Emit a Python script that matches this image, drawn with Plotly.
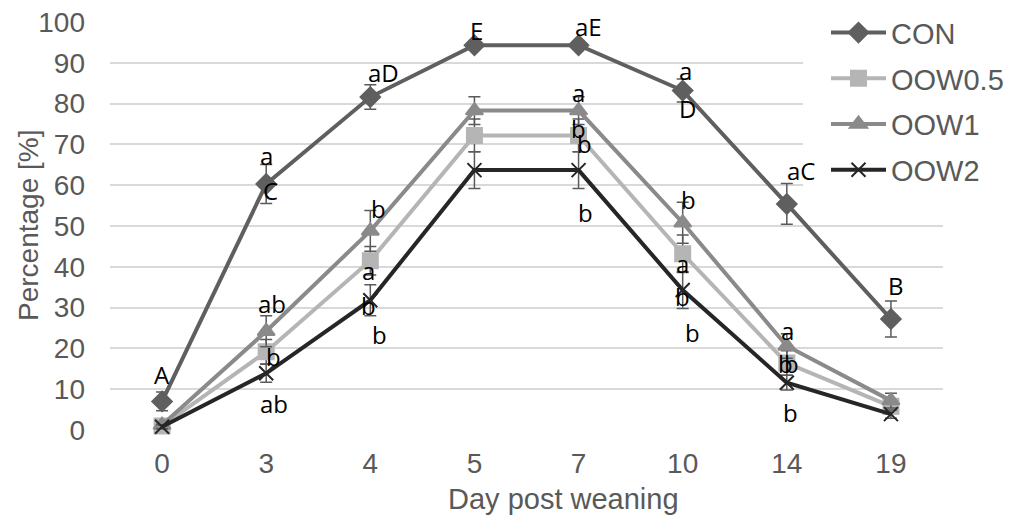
import plotly.graph_objects as go

days = ["0", "3", "4", "5", "7", "10", "14", "19"]

con = [7.0, 60.3, 81.6, 94.3, 94.3, 83.2, 55.4, 27.2]
con_err = [2.3, 4.8, 3.0, 1.0, 1.0, 2.8, 5.0, 4.4]

oow05 = [1.0, 19.2, 41.5, 72.2, 72.2, 43.2, 16.4, 5.8]
oow05_err = [0.5, 3.0, 3.5, 4.0, 4.0, 4.6, 3.0, 1.5]

oow1 = [1.2, 24.2, 48.8, 78.3, 78.3, 50.8, 20.6, 7.2]
oow1_err = [0.5, 3.8, 5.0, 3.4, 3.4, 5.0, 3.0, 1.8]

oow2 = [0.8, 13.9, 31.8, 63.7, 63.7, 34.3, 11.6, 3.9]
oow2_err = [0.5, 2.2, 3.8, 4.5, 4.5, 4.5, 1.8, 1.0]

# significance letters: day, y value, text, horizontal nudge (px)
lab_day = ["0", "3", "3", "4", "5", "7", "10", "10", "14", "19",
           "3", "3", "3",
           "4", "4", "4", "4",
           "7", "7", "7", "7",
           "10", "10", "10", "10",
           "14", "14", "14", "14"]
lab_y = [13.5, 67.4, 58.8, 87.7, 98.0, 98.8, 88.2, 78.9, 63.7, 35.5,
         31.1, 17.9, 6.4,
         54.4, 39.2, 30.6, 23.3,
         82.6, 74.0, 70.3, 53.4,
         56.4, 40.9, 32.6, 23.8,
         24.5, 16.4, 16.4, 4.2]
lab_text = ["A", "a", "C", "aD", "E", "aE", "a", "D", "aC", "B",
            "ab", "b", "ab",
            "b", "a", "b", "b",
            "a", "b", "b", "b",
            "b", "a", "b", "b",
            "a", "b", "b", "b"]
lab_dx = [0, 0, 4, 13, 2, 10, 3, 5, 14, 5,
          6, 7, 8,
          8, -2, -2, 9,
          0, 0, 6, 7,
          6, 0, 0, 10,
          1, -1, 5, 4]

series = [
    ("CON", con, con_err, "#5f5f5f", "diamond", 15),
    ("OOW0.5", oow05, oow05_err, "#b5b5b5", "square", 15),
    ("OOW1", oow1, oow1_err, "#8a8a8a", "triangle-up", 15),
    ("OOW2", oow2, oow2_err, "#262626", "x-thin", 14),
]

fig = go.Figure()
for i, (name, vals, err, col, sym, size) in enumerate(series):
    fig.add_trace(go.Scatter(
        x=days, y=vals, name=name, mode="lines+markers",
        line=dict(color=col, width=4),
        marker=dict(symbol=sym, size=size, color=col,
                    line=dict(color=col, width=2)),
        error_y=dict(type="data", array=err, visible=True,
                     color="#5a5a5a", thickness=1.5, width=6),
        cliponaxis=False, legendgroup=name,
    ))

for d, yv, t, dx in zip(lab_day, lab_y, lab_text, lab_dx):
    fig.add_annotation(x=days.index(d), y=yv, text=t, showarrow=False,
                       xshift=dx, xanchor="center", yanchor="middle",
                       font=dict(family="Open Sans", size=24, color="#000000"))

L, R, T, B = 110, 73, 22, 88
W, H = 1016, 518
pw = W - L - R
ph = H - T - B

fig.add_annotation(text="Percentage [%]", xref="paper", yref="paper",
                   x=(28 - L) / pw, y=0.5, textangle=-90, showarrow=False,
                   xanchor="center", yanchor="middle",
                   font=dict(family="Liberation Sans", size=28, color="#595959"))
fig.add_annotation(text="Day post weaning", xref="paper", yref="paper",
                   x=(563 - L) / pw, y=-(499 - (T + ph)) / ph, showarrow=False,
                   xanchor="center", yanchor="middle",
                   font=dict(family="Liberation Sans", size=29, color="#595959"))

fig.update_layout(
    width=W, height=H,
    margin=dict(l=L, r=R, t=T, b=B, autoexpand=False),
    paper_bgcolor="white", plot_bgcolor="white",
    font=dict(family="Liberation Sans", size=28, color="#595959"),
    showlegend=True,
    legend=dict(x=(803 - L) / pw, xanchor="left",
                y=0.986, yref="container", yanchor="top",
                bgcolor="white", font=dict(size=29, color="#595959"),
                tracegroupgap=5, itemwidth=55, indentation=23),
    xaxis=dict(type="category", range=[-0.5, 7.5], showgrid=False,
               zeroline=False, showline=False, ticks="",
               tickfont=dict(size=28, color="#595959"), ticklabelstandoff=14),
    yaxis=dict(range=[0, 100], dtick=10, showgrid=True, gridcolor="#d9d9d9",
               gridwidth=1.5, zeroline=False, showline=False, ticks="",
               tickfont=dict(size=28, color="#595959"), ticklabelstandoff=24),
)

fig.write_html("out.html")
